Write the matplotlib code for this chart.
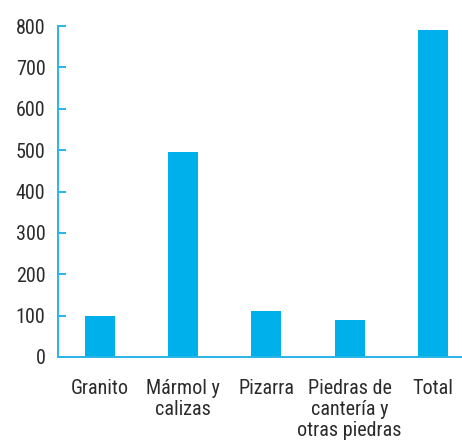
import matplotlib.pyplot as plt

# Stone production by type
categories = ['Granito', 'Mármol y\ncalizas', 'Pizarra', 'Piedras de\ncantería y\notras piedras', 'Total']
values = [98, 495, 111, 89, 790]
yticks = [0, 100, 200, 300, 400, 500, 600, 700, 800]

plt.rcParams['font.family'] = ['Roboto Condensed', 'DejaVu Sans']

bar_color = '#00b0eb'
axis_color = '#27b5e8'
text_color = '#2b2b2b'

fig = plt.figure(figsize=(4.62, 4.42), dpi=100)
ax = fig.add_axes([58 / 462, 85 / 442, 404 / 462, 331 / 442])

x = list(range(len(categories)))
ax.bar(x, values, width=0.36, color=bar_color, clip_on=False, zorder=2)

ax.set_xlim(-0.5, 4.35)
ax.set_ylim(0, 800)
ax.set_yticks(yticks)
ax.set_xticks(x)
ax.set_xticklabels(categories, linespacing=1.12, va='top')

for s in ['top', 'right']:
    ax.spines[s].set_visible(False)
for s in ['left', 'bottom']:
    ax.spines[s].set_color(axis_color)
    ax.spines[s].set_linewidth(1.4)

ax.tick_params(axis='y', direction='in', length=6, width=1.4, color=axis_color,
               pad=9, labelsize=14.5, labelcolor=text_color)
ax.tick_params(axis='x', length=0, pad=16, labelsize=14.5, labelcolor=text_color)

fig.savefig('out.png', dpi=100)
